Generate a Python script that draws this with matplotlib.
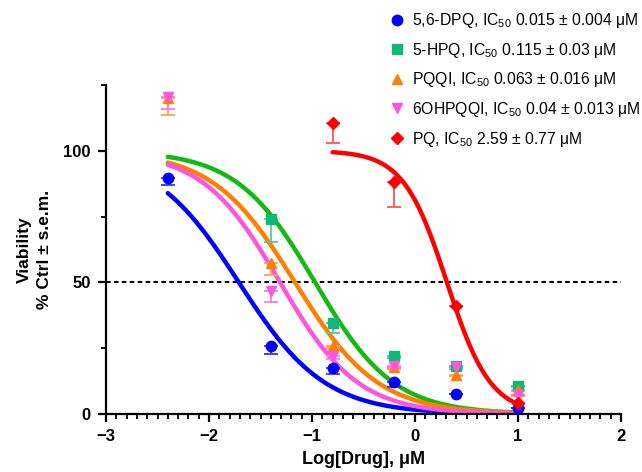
import matplotlib
matplotlib.use("Agg")
import matplotlib.pyplot as plt
import numpy as np
from matplotlib.ticker import MultipleLocator, FixedLocator

plt.rcParams["font.family"] = ["Liberation Sans", "DejaVu Sans"]
plt.rcParams["mathtext.fontset"] = "custom"
plt.rcParams["mathtext.rm"] = "Liberation Sans"

# log10 of concentration (uM)
log_conc = [-2.4, -1.4, -0.8, -0.2, 0.4, 1.0]

names = ["5,6-DPQ", "5-HPQ", "PQQI", "6OHPQQI", "PQ"]
ic50_text = ["0.015 ± 0.004", "0.115 ± 0.03", "0.063 ± 0.016", "0.04 ± 0.013", "2.59 ± 0.77"]

# mean viability, NaN = not shown
dpq56 = [89.8, 25.7, 17.5, 12.0, 7.6, 2.3]
hpq5 = [np.nan, 74.0, 34.6, 21.9, 18.4, 10.8]
pqqi = [120.0, 57.4, 25.9, 18.0, 14.9, 9.2]
ohpqqi = [120.6, 46.9, 21.9, 18.3, 17.7, 7.2]
pq = [np.nan, np.nan, 110.6, 88.2, 41.2, 4.2]

# s.e.m. (only the lower bar is drawn)
dpq56_err = [2.8, 2.8, 2.4, 1.6, 0.0, 0.0]
hpq5_err = [np.nan, 8.7, 3.7, 0.8, 0.5, 0.5]
pqqi_err = [6.4, 4.4, 1.0, 1.0, 0.5, 0.5]
ohpqqi_err = [4.6, 4.5, 1.0, 1.0, 0.5, 0.5]
pq_err = [np.nan, np.nan, 7.7, 9.4, 0.0, 0.0]

# fitted curve parameters (top, bottom, logIC50, hill) and fit range
fit_top = [100, 100, 100, 100, 100]
fit_bottom = [0, 0, 0, 0, 0]
fit_logic50 = [-1.71, -0.97, -1.165, -1.31, 0.31]
fit_hill = [1.04, 1.14, 1.08, 1.15, 2.05]
fit_start = [-2.4, -2.4, -2.4, -2.4, -0.8]
fit_end = [1.0, 1.0, 1.0, 1.0, 1.0]

means = [dpq56, hpq5, pqqi, ohpqqi, pq]
errs = [dpq56_err, hpq5_err, pqqi_err, ohpqqi_err, pq_err]
marker_colors = ["#0000ff", "#10b878", "#ff7f00", "#ff55dd", "#ff0000"]
curve_colors = ["#0000ff", "#11bb11", "#ff7f00", "#ff55dd", "#ff0000"]
err_colors = ["#3333ff", "#55c9a0", "#ffa050", "#ff77e4", "#ff5555"]
markers = ["o", "s", "^", "v", "D"]
msizes = [7.5, 7.5, 7.5, 7.5, 6.5]

fig = plt.figure(figsize=(6.42, 4.72), dpi=100)
ax = fig.add_axes([106 / 642, 58 / 472, 515 / 642, 329 / 472])

ax.axhline(50, color="black", lw=1.5, ls=(0, (2.2, 1.6)), zorder=1)

for i in range(len(names)):
    xs = np.linspace(fit_start[i], fit_end[i], 300)
    ys = fit_bottom[i] + (fit_top[i] - fit_bottom[i]) / (1 + 10 ** ((xs - fit_logic50[i]) * fit_hill[i]))
    ax.plot(xs, ys, color=curve_colors[i], lw=3.2, zorder=2, solid_capstyle="round")

handles = []
for i in range(len(names)):
    m = np.array(means[i], dtype=float)
    e = np.array(errs[i], dtype=float)
    ax.errorbar(log_conc, m, yerr=[e, np.zeros_like(e)], fmt="none",
                ecolor=err_colors[i], elinewidth=1.3, capsize=5, capthick=1.3, zorder=3)
    h, = ax.plot(log_conc, m, ls="none", marker=markers[i], ms=msizes[i],
                 color=marker_colors[i], mec=marker_colors[i], zorder=4)
    handles.append(h)

labels = [f"{n}, IC$_{{50}}$ {t} μM" for n, t in zip(names, ic50_text)]
fig.legend(handles, labels, loc="upper left", bbox_to_anchor=(388 / 642, 1 - 8 / 472),
           frameon=False, fontsize=11.3, handlelength=0.75, handletextpad=0.55,
           labelspacing=0.675, borderaxespad=0, borderpad=0.2)

ax.set_xlim(-3, 2)
ax.set_ylim(0, 125)
ax.xaxis.set_major_locator(MultipleLocator(1))
ax.xaxis.set_minor_locator(MultipleLocator(0.1))
ax.yaxis.set_major_locator(FixedLocator([0, 50, 100]))
ax.yaxis.set_minor_locator(FixedLocator([25, 75, 125]))

for s in ["top", "right"]:
    ax.spines[s].set_visible(False)
for s in ["left", "bottom"]:
    ax.spines[s].set_linewidth(1.6)

ax.tick_params(which="major", length=6, width=1.6, direction="out", labelsize=12, pad=5)
ax.tick_params(which="minor", length=3.5, width=1.3, direction="out")
for lab in ax.get_xticklabels() + ax.get_yticklabels():
    lab.set_fontweight("bold")

ax.set_xlabel("Log[Drug], μM", fontsize=13, fontweight="bold", labelpad=5)
ax.set_ylabel("Viability\n% Ctrl ± s.e.m.", fontsize=12.5, fontweight="bold",
              labelpad=8, linespacing=1.45)

fig.savefig("out.png", dpi=100)
